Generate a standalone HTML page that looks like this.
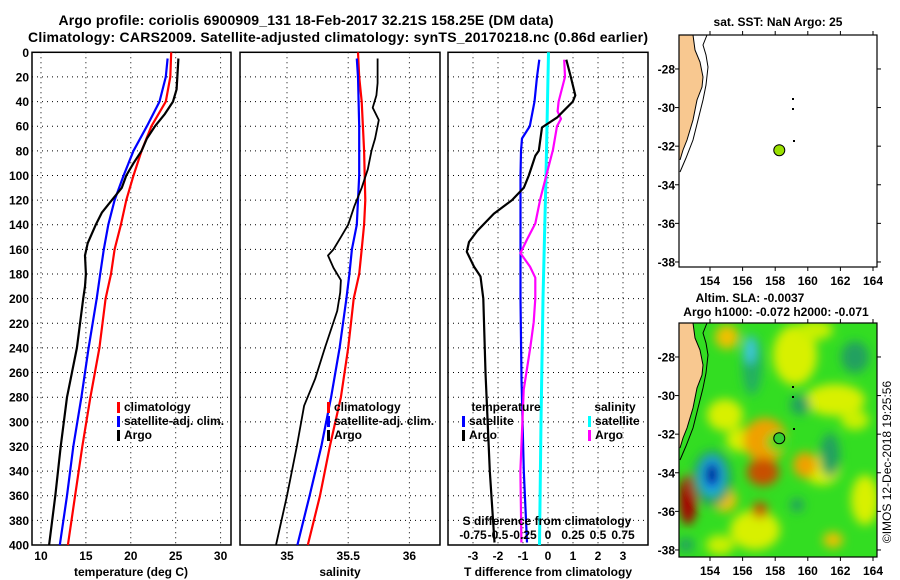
<!DOCTYPE html>
<html><head><meta charset="utf-8"><style>
body{margin:0;background:#fff}
svg{display:block;font-family:"Liberation Sans",Arial,sans-serif;font-weight:bold}
text{font-size:12px;fill:#000}
</style></head><body>
<svg id="c" width="900" height="580" viewBox="0 0 900 580">
<defs><filter id="bl" x="-30%" y="-30%" width="160%" height="160%"><feGaussianBlur stdDeviation="5"/></filter>
<clipPath id="m2c"><rect x="679" y="323" width="198" height="234"/></clipPath></defs>
<text x="306" y="25" text-anchor="middle" style="font-size:14px" textLength="495">Argo profile: coriolis 6900909_131 18-Feb-2017 32.21S 158.25E (DM data)</text>
<text x="338" y="42" text-anchor="middle" style="font-size:14px" textLength="620">Climatology: CARS2009. Satellite-adjusted climatology: synTS_20170218.nc (0.86d earlier)</text>
<g id="plots"></g>
<g id="maps"></g>
</svg>
<script>
// depth axis
const depthTicks=[0,20,40,60,80,100,120,140,160,180,200,220,240,260,280,300,320,340,360,380,400];
// Temperature panel
const tTicks=[10,15,20,25,30];
const tClimDepth=[0,20,40,60,80,100,120,140,160,180,200,240,280,320,360,400];
const tClim=[24.5,24.4,23.9,22.3,21.2,20.3,19.5,18.9,18.2,17.8,17.2,16.5,15.5,14.6,13.8,13.0];
const tSatDepth=[5,20,40,60,80,100,120,140,160,180,200,240,280,320,360,400];
const tSat=[24.1,23.9,23.2,21.8,20.3,19.2,18.2,17.5,17.0,16.6,16.2,15.3,14.5,13.6,12.9,12.1];
const tArgoDepth=[5,30,40,50,60,70,80,90,100,110,120,130,140,155,165,180,190,200,240,280,320,360,400];
const tArgo=[25.3,25.1,24.7,23.8,22.7,21.8,21.2,20.3,19.5,19.0,17.9,16.8,16.1,15.2,14.9,15.0,14.9,14.7,14.0,12.9,12.2,11.6,10.9];
// Salinity panel
const sTicks=[35,35.5,36];
const sClimDepth=[0,20,40,60,80,100,120,140,160,180,200,240,280,320,360,400];
const sClim=[35.58,35.59,35.61,35.62,35.63,35.635,35.64,35.63,35.61,35.59,35.545,35.5,35.44,35.35,35.27,35.17];
const sSatDepth=[5,20,40,60,100,120,140,160,180,200,240,280,320,360,400];
const sSat=[35.57,35.58,35.585,35.59,35.59,35.58,35.57,35.53,35.51,35.485,35.43,35.36,35.28,35.185,35.085];
const sArgoDepth=[5,25,35,45,55,70,80,95,110,125,140,150,160,165,175,185,195,210,240,265,287,320,360,400];
const sArgo=[35.74,35.74,35.73,35.70,35.75,35.72,35.69,35.66,35.61,35.55,35.50,35.44,35.38,35.335,35.38,35.44,35.435,35.41,35.31,35.23,35.14,35.08,35.0,34.91];
// Difference panel
const dTTicks=[-3,-2,-1,0,1,2,3];
const dSTickLabels=["-0.75","-0.5","-0.25","0","0.25","0.5","0.75"];
const dTSatDepth=[6,20,40,60,70,80,100,150,200,266,340,398];
const dTSat=[-0.35,-0.44,-0.54,-0.73,-1.04,-1.08,-1.1,-1.1,-1.1,-1.06,-0.97,-0.84];
const dTArgoDepth=[6,20,35,40,47,53,61,80,84,100,110,120,131,145,154,162,174,182,200,260,340,398];
const dTArgo=[0.73,0.91,1.09,0.99,0.65,0.36,-0.24,-0.37,-0.51,-0.77,-0.97,-1.44,-2.17,-2.83,-3.16,-3.25,-2.96,-2.70,-2.59,-2.50,-2.33,-2.14];
const dSSatDepth=[0,100,200,300,400];
const dSSat=[0.005,-0.02,-0.05,-0.07,-0.085];
const dSArgoDepth=[6,20,40,48,54,60,79,100,119,139,152,163,174,183,200,219,239,260,274,340,398];
const dSArgo=[0.162,0.17,0.106,0.096,0.13,0.09,0.05,-0.017,-0.077,-0.127,-0.21,-0.276,-0.18,-0.127,-0.127,-0.143,-0.176,-0.216,-0.243,-0.276,-0.266];

const NS='http://www.w3.org/2000/svg';
const G=document.getElementById('plots');
function el(tag,attrs,parent){const e=document.createElementNS(NS,tag);for(const k in attrs)e.setAttribute(k,attrs[k]);(parent||G).appendChild(e);return e;}
const Y0=52.3,Y1=545;
function yD(d){return Y0+(Y1-Y0)*d/400;}
const P=[{x0:32,x1:231,lo:9.0,hi:31.16},{x0:240,x1:440,lo:34.616,hi:36.25},{x0:448,x1:648,lo:-4,hi:4}];
function xS(p,v){return p.x0+(p.x1-p.x0)*(v-p.lo)/(p.hi-p.lo);}
function xDS(v){return xS(P[2],v*4);}
function line(ds,vs,fx,color,w,name){
  const pts=ds.map((d,i)=>fx(vs[i]).toFixed(1)+','+yD(d).toFixed(1)).join(' ');
  const e=el('polyline',{points:pts,fill:'none',stroke:color,'stroke-width':w,'stroke-linejoin':'round'});
  
  
}
depthTicks.forEach(d=>{const t=el('text',{x:29,y:yD(d)+4.5,'text-anchor':'end'});t.textContent=d;
  
  });
P.forEach((p,pi)=>{
  const g=el('g',{});
  
  
  depthTicks.slice(1,-1).forEach(d=>el('line',{x1:p.x0,x2:p.x1,y1:yD(d),y2:yD(d),stroke:'#000','stroke-width':1,'stroke-dasharray':'1 4'},g));
  const vt=pi==0?tTicks:pi==1?sTicks:dTTicks;
  vt.forEach(v=>{const x=xS(p,v);el('line',{x1:x,x2:x,y1:Y0,y2:Y1,stroke:'#000','stroke-width':1,'stroke-dasharray':'1 4'},g);
    const t=el('text',{x:x,y:560,'text-anchor':'middle'},g);t.textContent=v;
    
    });
  el('rect',{x:p.x0,y:Y0,width:p.x1-p.x0,height:Y1-Y0,fill:'none',stroke:'#000','stroke-width':1.5},g);
});
line(tClimDepth,tClim,v=>xS(P[0],v),'#f00',2.2,'temperature-climatology-line');
line(tSatDepth,tSat,v=>xS(P[0],v),'#00f',2.2,'temperature-satellite-line');
line(tArgoDepth,tArgo,v=>xS(P[0],v),'#000',2.2,'temperature-argo-line');
line(sClimDepth,sClim,v=>xS(P[1],v),'#f00',2.2,'salinity-climatology-line');
line(sSatDepth,sSat,v=>xS(P[1],v),'#00f',2.2,'salinity-satellite-line');
line(sArgoDepth,sArgo,v=>xS(P[1],v),'#000',1.8,'salinity-argo-line');
line(dSSatDepth,dSSat,xDS,'#0ff',3,'salinity-diff-satellite-line');
line(dTSatDepth,dTSat,v=>xS(P[2],v),'#00f',2.2,'temperature-diff-satellite-line');
line(dSArgoDepth,dSArgo,xDS,'#f0f',2.2,'salinity-diff-argo-line');
line(dTArgoDepth,dTArgo,v=>xS(P[2],v),'#000',2.2,'temperature-diff-argo-line');
dSTickLabels.forEach((s,i)=>{const t=el('text',{x:xS(P[2],dTTicks[i]),y:539,'text-anchor':'middle'});t.textContent=s;
  
  });
function txt(x,y,s,name,anchor,size){const t=el('text',{x:x,y:y,'text-anchor':anchor||'start'});if(size)t.style.fontSize=size+'px';t.textContent=s;
  
  return t;}
txt(547,525,'S difference from climatology','s-diff-axis-title','middle');
txt(131,576,'temperature (deg C)','temperature-axis-title','middle');
txt(340,576,'salinity','salinity-axis-title','middle');
txt(548,576,'T difference from climatology','t-diff-axis-title','middle');
function leg(x,y,c,s,name){el('rect',{x:x,y:y-9,width:3,height:11,fill:c});txt(x+7,y,s,name);}
leg(117,411,'#f00','climatology','legend-climatology');
leg(117,425,'#00f','satellite-adj. clim.','legend-satellite-adj');
leg(117,439,'#000','Argo','legend-argo');
leg(327,411,'#f00','climatology','legend2-climatology');
leg(327,425,'#00f','satellite-adj. clim.','legend2-satellite-adj');
leg(327,439,'#000','Argo','legend2-argo');
txt(506,411,'temperature','legend-temperature-heading','middle');
leg(462,425,'#00f','satellite','legend-temp-satellite');
leg(462,439,'#000','Argo','legend-temp-argo');
txt(615,411,'salinity','legend-salinity-heading','middle');
leg(588,425,'#0ff','satellite','legend-sal-satellite');
leg(588,439,'#f0f','Argo','legend-sal-argo');

// ===== maps =====
const M=document.getElementById('maps');
const lonTicks=[154,156,158,160,162,164];
const latTicks=[-28,-30,-32,-34,-36,-38];
const floatLon=158.25, floatLat=-32.21;
function mx(lon){return 710+(lon-154)*16.3;}
function my(top,lat){return top+(-26.24-lat)*19.3;}
function mel(tag,a,p){return el(tag,a,p||M);}
const coast=[[693,35],[695,50],[700,62],[703,77],[702,87],[697,100],[693,120],[687,140],[683,150],[680,160]];
const shelf=[[707,35],[703,45],[706,55],[708,67],[706,85],[703,100],[698,120],[693,140],[686,158],[680,172]];
function drawMap(top,fillHeat,idx){
  const g=mel('g',{});
  
  
  const H=top==35?232:234;
  if(fillHeat){
    const h=mel('g',{'clip-path':'url(#m2c)'},g);
    
    
    mel('rect',{x:679,y:top,width:198,height:H,fill:'#33dd22'},h);
    const f=mel('g',{filter:'url(#bl)'},h);
    const blobs=[
     ['#d8f000',795,355,22,30],['#d8f000',835,400,30,16],['#d8f000',725,415,18,16],['#d8f000',755,530,25,20],
     ['#d8f000',865,500,14,25],['#d8f000',822,470,18,15],['#d8f000',742,440,16,12],['#f0c000',727,337,12,12],
     ['#c8f000',815,330,18,10],['#c8f000',855,420,14,10],['#c8f000',720,545,14,10],
     ['#22b060',752,365,10,30],['#40c8e0',750,350,6,14],['#22a060',855,357,14,16],['#22a060',800,405,10,10],
     ['#f0a000',765,440,22,22],['#f0a000',805,465,12,13],['#c85000',763,472,16,14],['#c85000',760,510,8,8],
     ['#f0c000',833,540,10,8],['#22a060',830,455,10,22],['#22a060',797,505,7,7],['#f0c000',725,500,12,12],
     ['#a80000',688,500,9,25],['#22a060',712,478,20,28],['#20c0f0',712,476,12,19],['#0030d0',712,475,8,14],['#000080',712,474,5,9],
     ['#33dd22',777,442,10,10],['#22a060',686,545,8,7]];
    blobs.forEach(b=>mel('ellipse',{fill:b[0],cx:b[1],cy:b[2],rx:b[3],ry:b[4]},f));
  }
  const off=top-35;
  const land=[[679,35]].concat(coast).concat([[679,160]]).map(p=>p[0]+','+(p[1]+off)).join(' ');
  mel('polygon',{points:land,fill:'#f8c890'},g);
  mel('polyline',{points:coast.map(p=>p[0]+','+(p[1]+off)).join(' '),fill:'none',stroke:'#000','stroke-width':1},g);
  mel('polyline',{points:shelf.map(p=>p[0]+','+(p[1]+off)).join(' '),fill:'none',stroke:'#000','stroke-width':1},g);
  [[792,98],[792,108],[793,140]].forEach(p=>mel('rect',{x:p[0],y:p[1]+off,width:2,height:2,fill:'#000'},g));
  mel('rect',{x:679,y:top,width:198,height:H,fill:'none',stroke:'#000','stroke-width':1.2},g);
  lonTicks.forEach(l=>{const x=mx(l);
    mel('line',{x1:x,x2:x,y1:top+H,y2:top+H+4,stroke:'#000'},g);mel('line',{x1:x,x2:x,y1:top,y2:top-4,stroke:'#000'},g);
    const t=mel('text',{x:x,y:top+H+18,'text-anchor':'middle'},g);t.textContent=l;
    
    });
  latTicks.forEach(l=>{const y=my(top,l);
    mel('line',{x1:877,x2:881,y1:y,y2:y,stroke:'#000'},g);mel('line',{x1:675,x2:679,y1:y,y2:y,stroke:'#000'},g);
    const t=mel('text',{x:675,y:y+4.5,'text-anchor':'end'},g);t.textContent=l;
    
    });
  const c=mel('circle',{cx:mx(floatLon),cy:my(top,floatLat),r:5.5,fill:fillHeat?'#33cc33':'#99e000',stroke:'#000','stroke-width':1},g);
  
  
}
drawMap(35,false,1);
drawMap(323,true,2);
function mtxt(x,y,s,name,anchor){const t=mel('text',{x:x,y:y,'text-anchor':anchor||'middle'});t.textContent=s;
  
  }
mtxt(778,26,'sat. SST: NaN Argo: 25','map1-title');
mtxt(750,302,'Altim. SLA: -0.0037','map2-title-line1');
mtxt(776,316,'Argo h1000: -0.072 h2000: -0.071','map2-title-line2');
const cr=mel('text',{x:0,y:0,'text-anchor':'middle',transform:'translate(891,462) rotate(-90)'});
cr.style.fontWeight='normal';
cr.textContent='©IMOS 12-Dec-2018 19:25:56';


</script>
</body></html>
